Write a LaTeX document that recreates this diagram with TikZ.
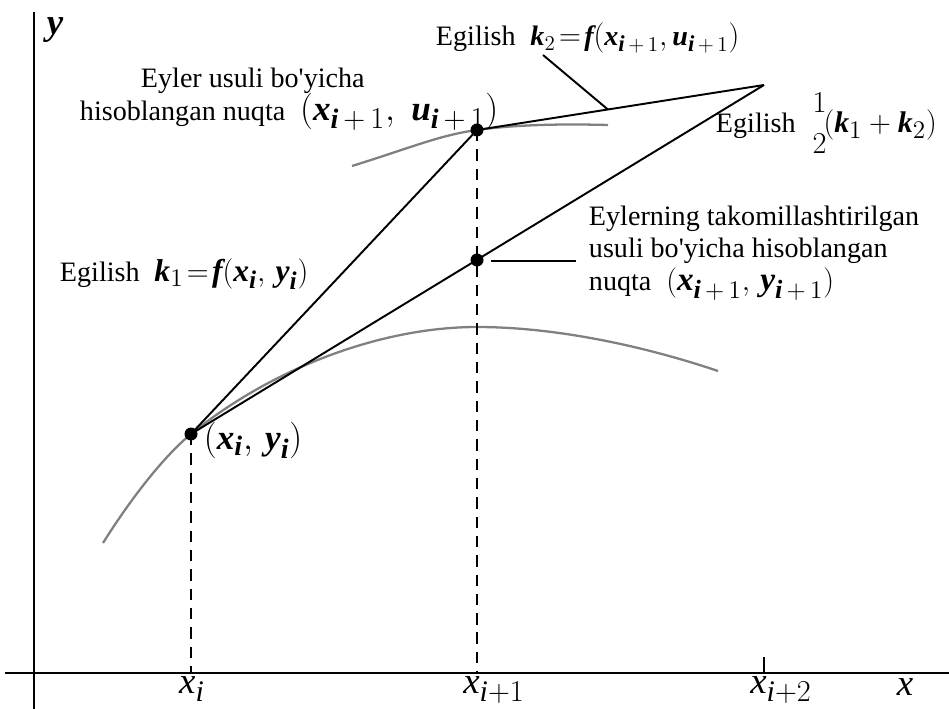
\documentclass[tikz,border=0pt]{standalone}
\usepackage{amsmath}
\usepackage{fontspec}
\setmainfont{Liberation Serif}
\usetikzlibrary{calc}
\DeclareMathSizes{16}{16}{13}{10}
\DeclareMathSizes{17}{17}{14}{11}
\DeclareMathSizes{18}{18}{14.5}{11}
\DeclareMathSizes{19}{19}{15}{12}
\DeclareMathSizes{20}{20}{16}{12}
\DeclareMathSizes{21}{21}{17}{13}
\newcommand{\mb}[1]{\text{\bfseries\itshape #1}}
\newcommand{\mi}[1]{\text{\itshape #1}}
\newcommand{\fm}[2][18]{{\fontsize{#1}{#1}\selectfont$#2$}}

\begin{document}
\begin{tikzpicture}[x=0.02cm, y=-0.02cm, line width=1.1pt,
  lbl/.style={font=\fontsize{16}{18.5}\selectfont, inner sep=0pt, align=left},
  dot/.style={circle, fill=black, inner sep=0pt, minimum size=0.26cm},
  sol/.style={draw=black!50, line width=1.3pt},
  guide/.style={dash pattern=on 6.5pt off 4.5pt, line width=0.9pt},
  axis/.style={line width=1.4pt},
]
\useasboundingbox (0,0) rectangle (949,709);
% axes
\coordinate (ytop) at (34,12);
\coordinate (ybot) at (34,709);
\coordinate (xl) at (5,673);
\coordinate (xr) at (949,673);
\draw[axis] (ybot) -- (ytop);
\draw[axis] (xl) -- (xr);

% exact solution curves
\draw[sol] (103,543) .. controls (130,500) and (163,457) .. (191,434)
  .. controls (271,369) and (380,327) .. (477,327)
  .. controls (560,327) and (650,348) .. (718,371);
\draw[sol] (352,166) .. controls (410,148) and (440,135) .. (477,130)
  .. controls (520,124) and (570,124) .. (608,125);

% points
\node[dot] (pi) at (191,434) {};
\node[dot] (pe) at (477,130) {};
\node[dot] (pm) at (477,260) {};
\coordinate (tip) at (764,85);

% feet on the x axis
\coordinate (fi) at (191,673);
\coordinate (fe) at (477,673);
\coordinate (fk) at (764,673);
\coordinate (tk) at (764,657);

\draw[guide] (pi.center) -- (fi);
\draw[guide] (pe.center) -- (fe);
\draw (tk) -- (fk);

% slopes
\draw (pi.center) -- (pe.center);
\draw (pe.center) -- (tip);
\draw (pi.center) -- (tip);

% labels
\node[lbl] (ylbl) at (55,30) {\fm[21]{\mb{y}}};
\node[lbl] (xlbl) at (905,687) {\fm[21]{\mi{x}}};
\node[lbl, anchor=north] (xi) at (192,676) {\fm[21]{\mi{x}_{\mi{i}}}};
\node[lbl, anchor=north] (xe) at (494,676) {\fm[21]{\mi{x}_{\mi{i}+1}}};
\node[lbl, anchor=north] (xk) at (781,676) {\fm[21]{\mi{x}_{\mi{i}+2}}};

\node[lbl, anchor=base west] (k2lbl) at (435,46)
  {Egilish\; \fm[16]{\mb{k}_2\!=\!\mb{f}(\mb{x}_{\mb{i}\,+\,1},\mb{u}_{\mb{i}\,+\,1})}};
\node[lbl, anchor=base west] (eu1) at (140,88) {Eyler usuli bo\textquotesingle yicha};
\node[lbl, anchor=base west] (eu2) at (79,121)
  {hisoblangan nuqta\; \fm[20]{(\mb{x}_{\mb{i}\,+\,1},\;\mb{u}_{\mb{i}\,+\,1})}};
\node[lbl, anchor=base west] (k1lbl) at (59,281)
  {Egilish\; \fm[18]{\mb{k}_1\!=\!\mb{f}(\mb{x}_{\mb{i}},\,\mb{y}_{\mb{i}})}};
\node[lbl, anchor=base west] (pilbl) at (203,449)
  {\fm[20]{(\mb{x}_{\mb{i}},\,\mb{y}_{\mb{i}})}};
\node[lbl, anchor=base west] (avglbl) at (715,133)
  {Egilish\; \fm[17]{\genfrac{}{}{0pt}{0}{1}{2}\!(\mb{k}_1+\mb{k}_2)}};
\node[lbl, anchor=north west] (imlbl) at (588,205)
  {Eylerning takomillashtirilgan\\usuli bo\textquotesingle yicha hisoblangan\\
   nuqta\; \fm[19]{(\mb{x}_{\mb{i}\,+\,1},\,\mb{y}_{\mb{i}\,+\,1})}};

% leader lines
\coordinate (k2a) at (543,55);
\coordinate (k2b) at ($(pe.center)!0.456!(tip)$);
\draw (k2a) -- (k2b);
\coordinate (ima) at (491,261);
\coordinate (imb) at (576,261);
\draw (ima) -- (imb);
\end{tikzpicture}
\end{document}
